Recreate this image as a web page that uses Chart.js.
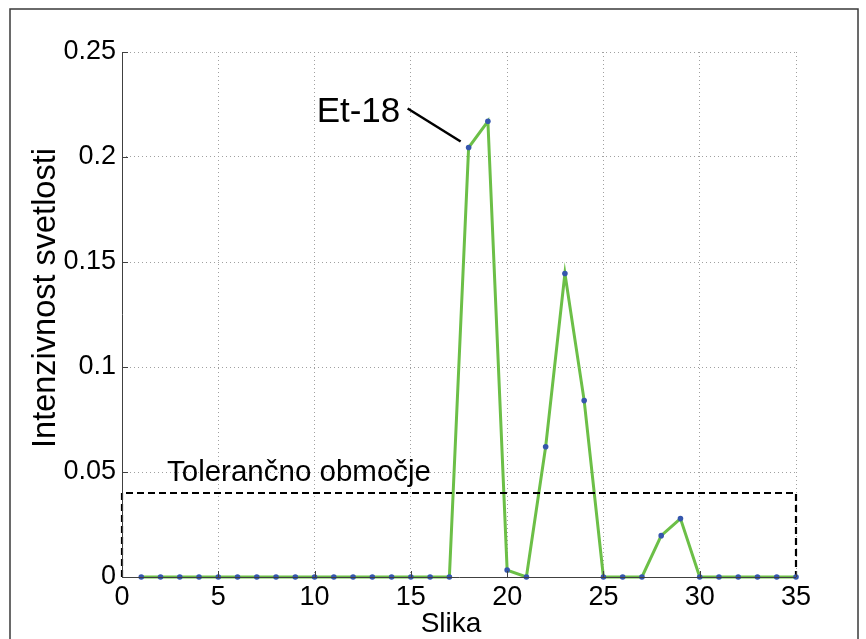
<!DOCTYPE html>
<html>
<head>
<meta charset="utf-8">
<script src="https://cdn.jsdelivr.net/npm/chart.js@4.4.1/dist/chart.umd.min.js"></script>
<style>
  html, body { margin: 0; padding: 0; background: #ffffff; }
  #wrap { width: 866px; height: 639px; position: relative; }
</style>
</head>
<body>
<div id="wrap"><canvas id="c" width="866" height="639"></canvas></div>
<script>
// ---- data ----
const slike = [1,2,3,4,5,6,7,8,9,10,11,12,13,14,15,16,17,18,19,20,21,22,23,24,25,26,27,28,29,30,31,32,33,34,35];
const intenziteta = [0,0,0,0,0,0,0,0,0,0,0,0,0,0,0,0,0,0.2045,0.2170,0.0033,0,0.0620,0.1445,0.0840,0,0,0,0.0197,0.0278,0,0,0,0,0,0];
const tolerancaX = [0, 0, 35, 35];
const tolerancaY = [0, 0.04, 0.04, 0];
const xTickVals = [0,5,10,15,20,25,30,35];
const yTickVals = [0,0.05,0.1,0.15,0.2,0.25];
const yTickLabels = ['0','0.05','0.1','0.15','0.2','0.25'];
const xTitle = 'Slika';
const yTitle = 'Intenzivnost svetlosti';
const tolText = 'Tolerančno območje';
const annText = 'Et-18';
const annIndex = 17;

const pts = slike.map((x, i) => ({x: x, y: intenziteta[i]}));
const rect = tolerancaX.map((x, i) => ({x: x, y: tolerancaY[i]}));

const FONT = '"Liberation Sans", Arial, Helvetica, sans-serif';

const deco = {
  id: 'deco',
  beforeDraw(chart) {
    const ctx = chart.ctx;
    ctx.save();
    ctx.fillStyle = '#ffffff';
    ctx.fillRect(0, 0, chart.width, chart.height);
    ctx.strokeStyle = '#3a3a3a';
    ctx.lineWidth = 1.5;
    ctx.strokeRect(10, 9, 848, 650);
    ctx.restore();
  },
  afterDraw(chart) {
    const ctx = chart.ctx;
    const xs = chart.scales.x, ys = chart.scales.y;
    const a = chart.chartArea;
    ctx.save();
    // axis lines
    ctx.strokeStyle = '#404040';
    ctx.lineWidth = 1;
    ctx.beginPath();
    ctx.moveTo(a.left + 0.5, a.top);
    ctx.lineTo(a.left + 0.5, a.bottom + 0.5);
    ctx.lineTo(a.right, a.bottom + 0.5);
    ctx.stroke();
    // inward ticks
    ctx.beginPath();
    yTickVals.forEach(v => {
      const py = Math.round(ys.getPixelForValue(v)) + 0.5;
      ctx.moveTo(a.left, py); ctx.lineTo(a.left + 6, py);
    });
    xTickVals.forEach(v => {
      const px = Math.round(xs.getPixelForValue(v)) + 0.5;
      ctx.moveTo(px, a.bottom); ctx.lineTo(px, a.bottom - 6);
    });
    ctx.stroke();

    ctx.fillStyle = '#000000';
    // x title
    ctx.font = '28px ' + FONT;
    ctx.textAlign = 'center';
    ctx.textBaseline = 'alphabetic';
    ctx.fillText(xTitle, 451, 632);
    // y title
    ctx.save();
    ctx.translate(55, 298);
    ctx.rotate(-Math.PI / 2);
    ctx.font = '32.5px ' + FONT;
    ctx.fillText(yTitle, 0, 0);
    ctx.restore();
    // tolerance text
    ctx.font = '29.5px ' + FONT;
    ctx.textAlign = 'left';
    ctx.fillText(tolText, xs.getPixelForValue(0) + 45, ys.getPixelForValue(0.04) - 12);
    // annotation
    const px = xs.getPixelForValue(slike[annIndex]);
    const py = ys.getPixelForValue(intenziteta[annIndex]);
    ctx.font = '35px ' + FONT;
    ctx.fillText(annText, px - 152, py - 26);
    ctx.strokeStyle = '#000000';
    ctx.lineWidth = 2.5;
    ctx.beginPath();
    ctx.moveTo(px - 61, py - 39);
    ctx.lineTo(px - 8, py - 6);
    ctx.stroke();
    ctx.restore();
  }
};

new Chart(document.getElementById('c'), {
  type: 'line',
  data: {
    datasets: [
      { label: 'tocke', data: pts, showLine: false, pointRadius: 2.8, pointHoverRadius: 2.8,
        pointBackgroundColor: '#3556ad', pointBorderColor: '#3556ad', pointBorderWidth: 0, clip: false },
      { label: 'toleranca', data: rect, borderColor: '#000000', borderWidth: 2.2, borderDash: [7, 4],
        pointRadius: 0, fill: false, clip: false, tension: 0 },
      { label: 'intenziteta', data: pts, borderColor: '#6cbf47', borderWidth: 3, pointRadius: 0,
        fill: false, tension: 0, clip: false }
    ]
  },
  options: {
    responsive: false,
    animation: false,
    devicePixelRatio: 1,
    layout: { padding: { left: 0, top: 52, right: 70, bottom: 0 } },
    plugins: { legend: { display: false }, tooltip: { enabled: false } },
    scales: {
      x: {
        type: 'linear', min: 0, max: 35,
        afterFit(s) { s.height = 62; },
        afterBuildTicks(s) { s.ticks = xTickVals.map(v => ({value: v})); },
        ticks: { color: '#000', padding: 4, maxRotation: 0, autoSkip: false,
          font: { family: FONT, size: 27 }, callback: v => String(v) },
        grid: { color: '#a0a0a0', lineWidth: 1, drawTicks: false },
        border: { display: false, dash: [1, 3] }
      },
      y: {
        type: 'linear', min: 0, max: 0.25,
        afterFit(s) { s.width = 122; },
        afterBuildTicks(s) { s.ticks = yTickVals.map(v => ({value: v})); },
        ticks: { color: '#000', padding: 6, autoSkip: false,
          font: { family: FONT, size: 27 },
          callback: (v) => { const i = yTickVals.findIndex(t => Math.abs(t - v) < 1e-9); return i >= 0 ? yTickLabels[i] : ''; } },
        grid: { color: '#a0a0a0', lineWidth: 1, drawTicks: false },
        border: { display: false, dash: [1, 3] }
      }
    }
  },
  plugins: [deco]
});
</script>
</body>
</html>
